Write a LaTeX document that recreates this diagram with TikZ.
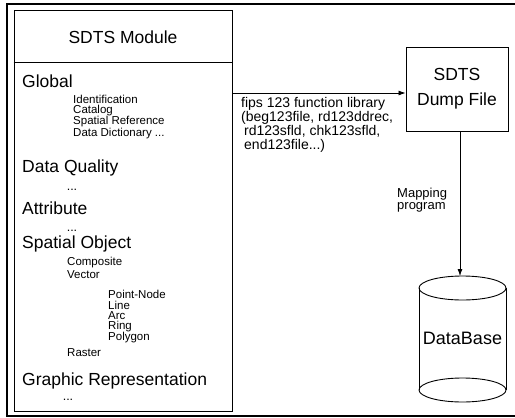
\documentclass[tikz,border=0pt]{standalone}
\usepackage{fontspec}
\setmainfont{Liberation Sans}
\usetikzlibrary{arrows.meta}

\begin{document}
\begin{tikzpicture}[x=1pt, y=-1pt,
  head/.style={anchor=west, inner sep=0pt, font=\fontsize{17.5}{20}\selectfont},
  item/.style={anchor=west, inner sep=0pt, font=\fontsize{11.5}{13}\selectfont},
  dots/.style={inner sep=0pt, font=\fontsize{12.5}{14}\selectfont},
  box/.style={draw, line width=0.9pt, inner sep=0pt},
  arr/.style={line width=0.8pt, -{Latex[length=7pt, width=5pt]}}]
\useasboundingbox (0,0) rectangle (515,418);

% frame round everything
\draw[line width=1.2pt] (516,4) -- (7,4) -- (7,416) -- (516,416);

% module box with its contents
\node[box, minimum width=218pt, minimum height=401pt] (module) at (123,210.5) {};
\draw[line width=0.9pt] (module.west |- 0,62) -- (module.east |- 0,62);
\node[inner sep=0pt, font=\fontsize{17.5}{20}\selectfont] (title) at (123,37) {SDTS Module};

\node[head] (global) at (22,81) {Global};
\node[item] (ident) at (73,99) {Identification};
\node[item] (catalog) at (73,110.5) {Catalog};
\node[item] (spref) at (73,122) {Spatial Reference};
\node[item] (dict) at (73,134) {Data Dictionary ...};

\node[head] (quality) at (22,168) {Data Quality};
\node[dots] (dotsa) at (72,190) {...};
\node[head] (attrib) at (22,208) {Attribute};
\node[dots] (dotsb) at (72,231) {...};

\node[head] (spobj) at (22,244) {Spatial Object};
\node[item] (compos) at (67,263) {Composite};
\node[item] (vector) at (67,275) {Vector};
\node[item] (pnode) at (108,294) {Point-Node};
\node[item] (line) at (108,305) {Line};
\node[item] (arc) at (108,316) {Arc};
\node[item] (ring) at (108,327) {Ring};
\node[item] (polygon) at (108,338) {Polygon};
\node[item] (raster) at (67,353) {Raster};

\node[head] (graphic) at (22,381) {Graphic Representation};
\node[dots] (dotsc) at (68,400) {...};

% dump file
\node[box, minimum width=102pt, minimum height=84pt, align=center,
  font=\fontsize{17.5}{20}\selectfont] (dump) at (457,89) {SDTS\\[5pt]Dump File};

\coordinate (libtap) at (300,93);
\draw[arr] (module.east |- libtap) -- (dump.west |- libtap);
\node[anchor=north west, inner sep=0pt, align=left,
  font=\fontsize{14}{14}\selectfont] (lib) at (241,97)
  {fips 123 function library\\(beg123file, rd123ddrec,\\\hspace{3pt}rd123sfld, chk123sfld,\\\hspace{3pt}end123file...)};

% database cylinder
\draw[line width=0.9pt] (419,288) -- (419,390) (506,288) -- (506,390);
\draw[line width=0.9pt] (462.5,288) ellipse [x radius=43.5, y radius=12];
\draw[line width=0.9pt] (462.5,390) ellipse [x radius=43.5, y radius=12];
\node[inner sep=0pt, font=\fontsize{18}{20}\selectfont] (db) at (462.5,338) {DataBase};

\coordinate (dbtop) at (460,276);
\draw[arr] (dump.south -| dbtop) -- (dbtop);
\node[anchor=west, inner sep=0pt, align=left,
  font=\fontsize{13}{12}\selectfont] (map) at (397,200) {Mapping\\program};
\end{tikzpicture}
\end{document}
